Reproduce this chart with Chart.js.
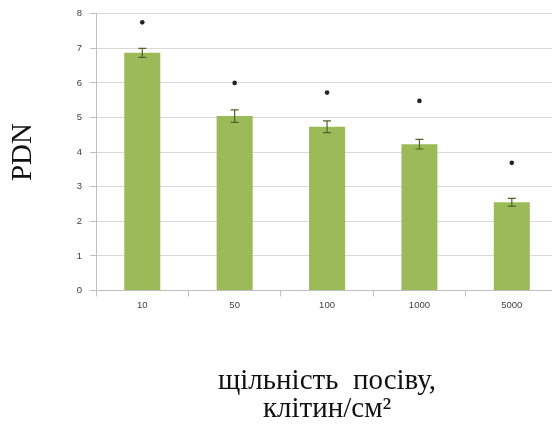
<!DOCTYPE html>
<html>
<head>
<meta charset="utf-8">
<script src="https://cdn.jsdelivr.net/npm/chart.js@4"></script>
<style>
  body { margin: 0; background: #fff; overflow: hidden; }
  #wrap { width: 562px; height: 429px; }
</style>
</head>
<body>
<div id="wrap"><canvas id="pdn_chart"></canvas></div>
<script>
const categories = ['10', '50', '100', '1000', '5000'];
const pdn_values = [6.87, 5.04, 4.73, 4.23, 2.55];
const pdn_errors = [0.13, 0.18, 0.17, 0.14, 0.11];
const star_marks = [7.75, 6.0, 5.72, 5.48, 3.69];
const y_ticks = [0, 1, 2, 3, 4, 5, 6, 7, 8];

const canvas = document.getElementById('pdn_chart');

// whiskers drawn from the error array through the y scale
const error_bars = {
    id: 'error_bars',
    afterDatasetsDraw(chart){
        const ctx = chart.ctx;
        const y = chart.scales.y;
        const meta = chart.getDatasetMeta(0);
        ctx.save();
        ctx.strokeStyle = '#4f6228';
        ctx.lineWidth = 1.2;
        meta.data.forEach((bar, i) => {
            const top = y.getPixelForValue(pdn_values[i] + pdn_errors[i]);
            const bot = y.getPixelForValue(pdn_values[i] - pdn_errors[i]);
            ctx.beginPath();
            ctx.moveTo(bar.x, top); ctx.lineTo(bar.x, bot);
            ctx.moveTo(bar.x - 4, top); ctx.lineTo(bar.x + 4, top);
            ctx.moveTo(bar.x - 4, bot); ctx.lineTo(bar.x + 4, bot);
            ctx.stroke();
        });
        ctx.restore();
    }
};

new Chart(canvas, {
    data: {
        labels: categories,
        datasets: [{
            type: 'bar',
            data: pdn_values,
            backgroundColor: '#9bbb59',
            barPercentage: 0.39,
            categoryPercentage: 1,
            order: 2
        }, {
            type: 'line',
            data: star_marks,
            showLine: false,
            pointRadius: 2.3,
            pointBackgroundColor: '#222',
            pointBorderWidth: 0,
            order: 1
        }]
    },
    options: {
        responsive: true,
        maintainAspectRatio: false,
        animation: false,
        layout: { padding: { left: 6, right: 4, top: 11, bottom: 6 } },
        plugins: { legend: { display: false }, tooltip: { enabled: false } },
        scales: {
            y: {
                min: 0,
                max: 8,
                afterBuildTicks: axis => { axis.ticks = y_ticks.map(v => ({ value: v })); },
                ticks: {
                    color: '#404040',
                    font: { family: 'Liberation Sans', size: 9.5 },
                    padding: 8
                },
                grid: { color: '#d9d9d9', tickLength: 6, tickColor: '#bfbfbf' },
                border: { color: '#bfbfbf' },
                title: {
                    display: true,
                    text: 'PDN',
                    color: '#111',
                    font: { family: 'Liberation Serif', size: 29 },
                    padding: { top: 0, bottom: 28 }
                }
            },
            x: {
                ticks: {
                    color: '#404040',
                    font: { family: 'Liberation Sans', size: 9.5 },
                    padding: 3
                },
                grid: { drawOnChartArea: false, offset: true, tickLength: 6, color: '#bfbfbf' },
                border: { color: '#bfbfbf' },
                title: {
                    display: true,
                    text: ['щільність  посіву,', 'клітин/см²'],
                    color: '#111',
                    font: { family: 'Liberation Serif', size: 29, lineHeight: 0.95 },
                    padding: { top: 54, bottom: 0 }
                }
            }
        }
    },
    plugins: [error_bars]
});
</script>
</body>
</html>
